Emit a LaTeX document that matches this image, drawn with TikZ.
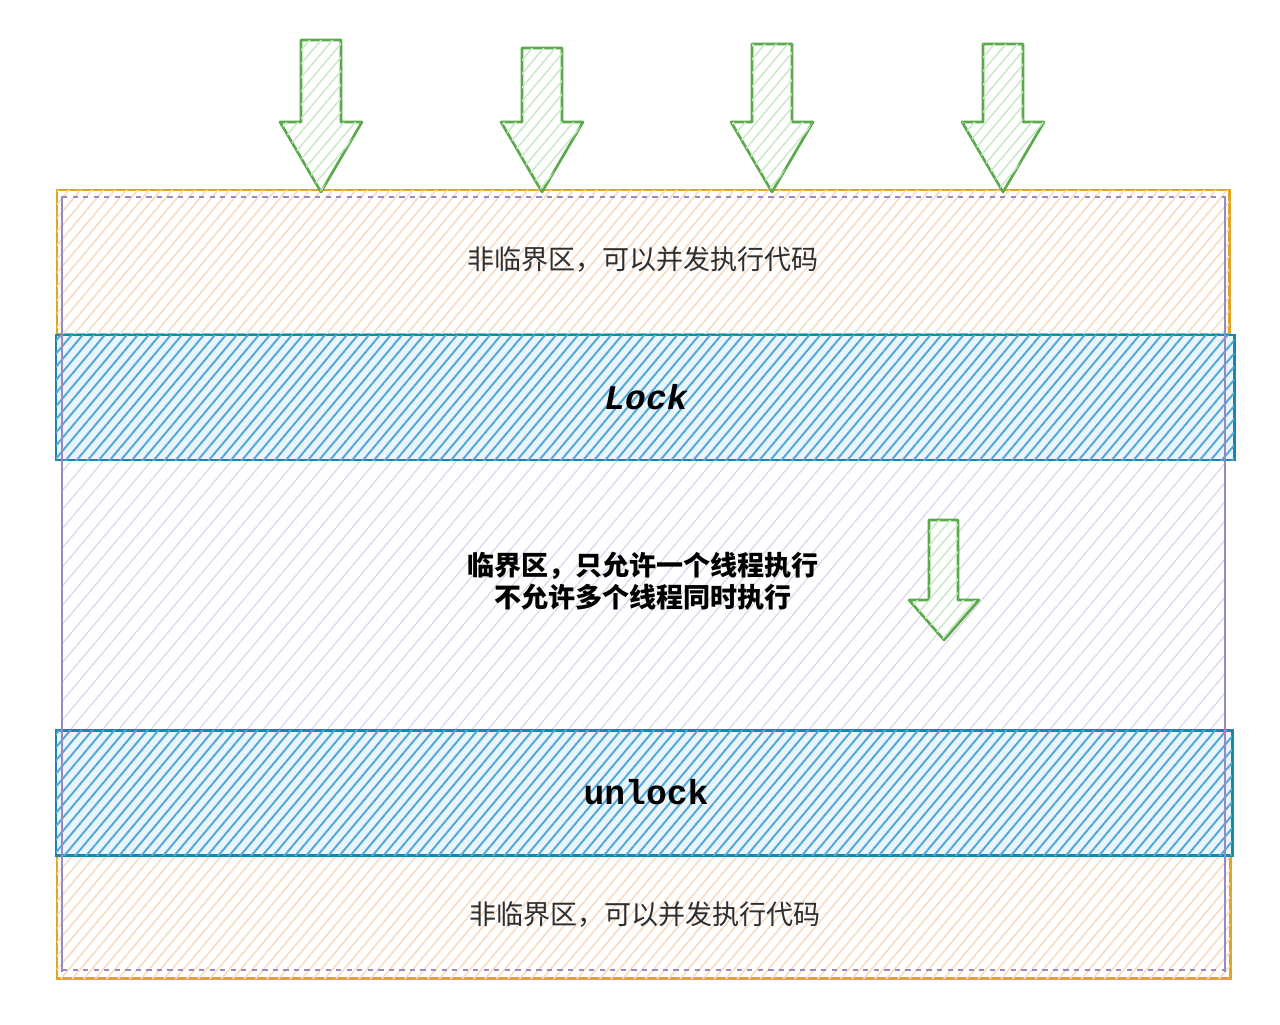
\documentclass[tikz,border=0pt]{standalone}
\usepackage{fontspec}
\newfontfamily\cjk{Noto Sans CJK SC}
\newfontfamily\codefont{Liberation Mono}
\usetikzlibrary{patterns.meta}
\definecolor{freeline}{HTML}{E0A526}
\definecolor{freehatch}{HTML}{F8DCC2}
\definecolor{lockline}{HTML}{1A86B0}
\definecolor{lockhatch}{HTML}{4FA8DA}
\definecolor{zoneline}{HTML}{9A88C2}
\definecolor{zonehatch}{HTML}{DED5EC}
\definecolor{arrowline}{HTML}{5AAA4C}
\definecolor{arrowhatch}{HTML}{C8E7C6}

\begin{document}
\begin{tikzpicture}[x=0.02cm,y=-0.02cm,
  zonebox/.style={pattern={Lines[angle=50,distance=7pt,line width=0.7pt]},pattern color=zonehatch},
  zoneline/.style={draw=zoneline,line width=1.1pt},
  freebox/.style={draw=freeline,line width=1.7pt,fill=white,postaction={pattern={Lines[angle=50,distance=5pt,line width=0.9pt]},pattern color=freehatch}},
  lockbox/.style={draw=lockline,line width=1.7pt,fill=lockhatch!12,postaction={pattern={Lines[angle=50,distance=4.8pt,line width=1.1pt]},pattern color=lockhatch}},
  blockarrow/.style={draw=arrowline,line width=1.5pt,line join=round,fill=white,postaction={pattern={Lines[angle=50,distance=5pt,line width=0.8pt]},pattern color=arrowhatch}},
  freetext/.style={font=\cjk\fontsize{15.4}{18}\selectfont,text=black!82},
  crittext/.style={font=\cjk\bfseries\fontsize{15.4}{18.2}\selectfont,align=center},
  codetext/.style={font=\codefont\bfseries\fontsize{19.7}{22}\selectfont}]
  \useasboundingbox[fill=white] (0,0) rectangle (1280,1024);
  % critical zone background
  \path[zonebox] (62,196) rectangle (1225,972);
  % non critical parts
  \path[freebox] (57,190) rectangle (1229,334);
  \path[freebox] (57,855) rectangle (1230,978);
  % lock and unlock bands
  \path[lockbox] (56,335) rectangle (1234,460);
  \path[lockbox] (56,730) rectangle (1232,855);
  % outline of the zone
  \draw[zoneline] (62,196) -- (62,972) (1225,196) -- (1225,972);
  \draw[zoneline,dashed] (62,197) -- (1225,197) (62,970) -- (1225,970);
  % threads coming in
  \foreach \ax/\at in {321/40,542/48,772/44,1003/44}
    \draw[blockarrow] (\ax-20,\at) -- (\ax+20,\at) -- (\ax+20,122) -- (\ax+41,122) -- (\ax,192)
      -- (\ax-41,122) -- (\ax-20,122) -- cycle;
  \draw[blockarrow] (929,520) -- (958,520) -- (958,600) -- (979,600) -- (944,640) -- (909,600) -- (929,600) -- cycle;
  % labels
  \node[freetext] (freetop) at (643,260) {非临界区，可以并发执行代码};
  \node[codetext,font=\codefont\bfseries\itshape\fontsize{19.7}{22}\selectfont] (locktext) at (646,397) {Lock};
  \node[crittext] (crit) at (643,581) {临界区，只允许一个线程执行\\不允许多个线程同时执行};
  \node[codetext] (unlocktext) at (646,792) {unlock};
  \node[freetext] (freebottom) at (645,915) {非临界区，可以并发执行代码};
\end{tikzpicture}
\end{document}
